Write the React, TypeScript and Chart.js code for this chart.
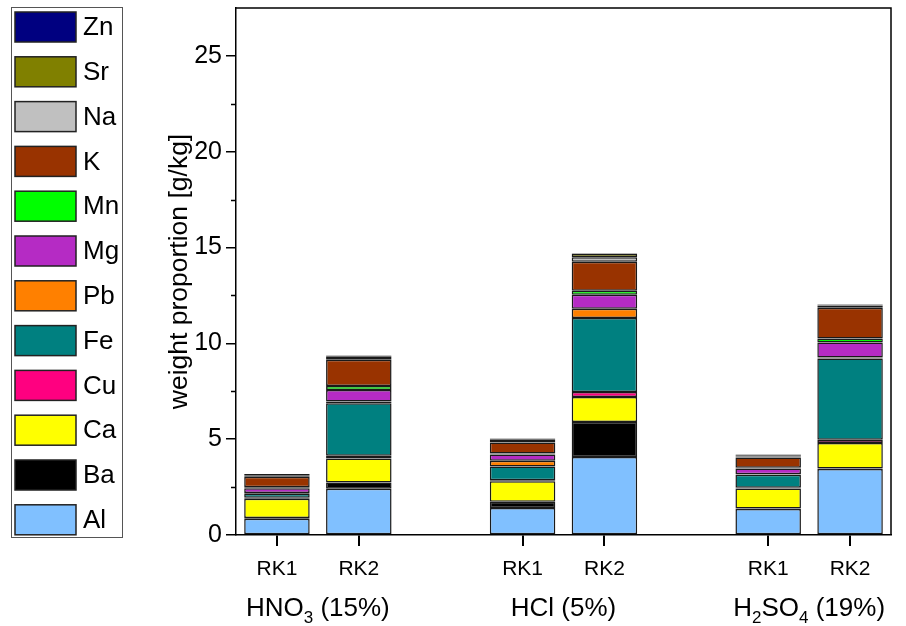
import React, { useEffect, useRef } from 'react';
import { Chart, registerables } from 'chart.js';

Chart.register(...registerables);

// Category slots along the x axis (empty slots separate the acid groups)
const categories = ['RK1', 'RK2', '', 'RK1', 'RK2', '', 'RK1', 'RK2'];
const sampleSlots = [0, 1, 3, 4, 6, 7];
// "_d" marks a subscript digit
const groupLabels = ['HNO_3 (15%)', 'HCl (5%)', 'H_2SO_4 (19%)'];

const elements = ['Al', 'Ba', 'Ca', 'Cu', 'Fe', 'Pb', 'Mg', 'Mn', 'K', 'Na', 'Sr', 'Zn'];
const colors = [
  '#80C0FF', '#000000', '#FFFF00', '#FF0080', '#008080', '#FF8000',
  '#B52BC4', '#00FF00', '#993300', '#C0C0C0', '#808000', '#000080',
];

// weight proportion [g/kg] per sample: HNO3 RK1, RK2, HCl RK1, RK2, H2SO4 RK1, RK2
const Al = [0.85, 2.41, 1.41, 4.07, 1.36, 3.45];
const Ba = [0.04, 0.33, 0.32, 1.83, 0.02, 0.02];
const Ca = [1.0, 1.25, 1.08, 1.3, 1.05, 1.33];
const Cu = [0.05, 0.14, 0.05, 0.26, 0.03, 0.17];
const Fe = [0.21, 2.74, 0.71, 3.86, 0.68, 4.24];
const Pb = [0.04, 0.1, 0.3, 0.49, 0.03, 0.05];
const Mg = [0.25, 0.6, 0.33, 0.73, 0.3, 0.79];
const Mn = [0.05, 0.21, 0.05, 0.21, 0.04, 0.21];
const K = [0.55, 1.37, 0.58, 1.51, 0.54, 1.6];
const Na = [0.05, 0.15, 0.08, 0.23, 0.05, 0.12];
const Sr = [0.04, 0.04, 0.06, 0.19, 0.04, 0.03];
const Zn = [0.05, 0.03, 0.07, 0.02, 0.06, 0.03];

const series = [Al, Ba, Ca, Cu, Fe, Pb, Mg, Mn, K, Na, Sr, Zn];

const FONT = "'Liberation Sans', Arial, Helvetica, sans-serif";

function toSlots(vals: number[]): (number | null)[] {
  const out: (number | null)[] = categories.map(() => null);
  sampleSlots.forEach((slot, i) => {
    out[slot] = vals[i];
  });
  return out;
}

function drawRich(ctx: CanvasRenderingContext2D, text: string, cx: number, baseY: number, size: number) {
  const subSize = Math.round(size * 0.65);
  const runs: { t: string; sub: boolean }[] = [];
  for (let i = 0; i < text.length; i++) {
    if (text[i] === '_' && i + 1 < text.length) {
      runs.push({ t: text[i + 1], sub: true });
      i++;
    } else {
      const last = runs[runs.length - 1];
      if (last && !last.sub) last.t += text[i];
      else runs.push({ t: text[i], sub: false });
    }
  }
  let total = 0;
  const widths = runs.map((r) => {
    ctx.font = `${r.sub ? subSize : size}px ${FONT}`;
    const w = ctx.measureText(r.t).width;
    total += w;
    return w;
  });
  let x = cx - total / 2;
  ctx.textAlign = 'left';
  ctx.textBaseline = 'alphabetic';
  runs.forEach((r, i) => {
    ctx.font = `${r.sub ? subSize : size}px ${FONT}`;
    ctx.fillText(r.t, x, r.sub ? baseY + size * 0.25 : baseY);
    x += widths[i];
  });
}

const decorPlugin = {
  id: 'decor',
  afterDraw(chart: any) {
    const { ctx, chartArea: a, scales } = chart;
    const x = scales.x;
    const y = scales.y;
    ctx.save();

    // frame: top and right edges of the plot
    ctx.strokeStyle = '#000';
    ctx.lineWidth = 1.5;
    ctx.beginPath();
    ctx.moveTo(a.left, a.top);
    ctx.lineTo(a.right, a.top);
    ctx.lineTo(a.right, a.bottom);
    ctx.stroke();

    // minor ticks on the y axis
    ctx.beginPath();
    for (let v = 2.5; v < y.max; v += 5) {
      const py = Math.round(y.getPixelForValue(v)) + 0.5;
      ctx.moveTo(a.left - 5, py);
      ctx.lineTo(a.left, py);
    }
    ctx.stroke();

    // tick marks under each sample bar
    ctx.lineWidth = 2;
    ctx.beginPath();
    sampleSlots.forEach((slot) => {
      const px = Math.round(x.getPixelForValue(slot));
      ctx.moveTo(px, a.bottom + 1);
      ctx.lineTo(px, a.bottom + 11);
    });
    ctx.stroke();

    // acid group labels under each pair of bars
    ctx.fillStyle = '#000';
    groupLabels.forEach((label, g) => {
      const c = (x.getPixelForValue(sampleSlots[g * 2]) + x.getPixelForValue(sampleSlots[g * 2 + 1])) / 2;
      drawRich(ctx, label, c, 616, 26);
    });

    // legend box, top entry = last dataset
    ctx.strokeStyle = '#555';
    ctx.lineWidth = 1;
    ctx.strokeRect(11.5, 7.5, 111, 530);
    const ds = chart.data.datasets;
    ctx.font = `26px ${FONT}`;
    ctx.textBaseline = 'middle';
    ctx.textAlign = 'left';
    for (let i = 0; i < ds.length; i++) {
      const d = ds[ds.length - 1 - i];
      const top = 12 + i * 44.8;
      ctx.fillStyle = d.backgroundColor;
      ctx.fillRect(15, top, 61, 30);
      ctx.strokeStyle = '#222';
      ctx.lineWidth = 1.5;
      ctx.strokeRect(15, top, 61, 30);
      ctx.fillStyle = '#000';
      ctx.fillText(d.label, 83, top + 16);
    }
    ctx.restore();
  },
};

export default function App() {
  const ref = useRef<HTMLCanvasElement>(null);

  useEffect(() => {
    document.body.style.margin = '0';
    const canvas = ref.current;
    if (!canvas) return;
    const chart = new Chart(canvas, {
      type: 'bar',
      data: {
        labels: categories,
        datasets: elements.map((el, i) => ({
          label: el,
          data: toSlots(series[i]),
          backgroundColor: colors[i],
          borderColor: '#1a1a1a',
          borderWidth: 1.5,
          borderSkipped: false,
          barPercentage: 0.8,
          categoryPercentage: 1,
        })),
      },
      options: {
        animation: false,
        responsive: false,
        layout: { padding: { left: 160, top: 8, right: 15, bottom: 0 } },
        plugins: {
          legend: { display: false },
          tooltip: { enabled: false },
        },
        scales: {
          x: {
            stacked: true,
            z: 1,
            grid: {
              offset: false,
              drawOnChartArea: false,
              drawTicks: true,
              tickLength: 10,
              lineWidth: 2,
              color: (c: any) => (c.tick && c.tick.label ? '#000' : 'rgba(0,0,0,0)'),
            },
            border: { display: true, color: '#000', width: 1.5 },
            ticks: {
              color: '#000',
              font: { family: FONT, size: 21 },
              padding: 12,
              maxRotation: 0,
              autoSkip: false,
            },
            afterFit: (s: any) => {
              s.height = 91;
              s.paddingLeft = 0;
              s.paddingRight = 0;
            },
          },
          y: {
            stacked: true,
            min: 0,
            max: 27.5,
            grid: {
              drawOnChartArea: false,
              drawTicks: true,
              tickLength: 10,
              lineWidth: 1.5,
              color: (c: any) => (c.tick && c.tick.value % 5 === 0 ? '#000' : 'rgba(0,0,0,0)'),
            },
            border: { display: true, color: '#000', width: 1.5 },
            ticks: {
              stepSize: 2.5,
              color: '#000',
              font: { family: FONT, size: 25 },
              padding: 4,
              callback: (v: any) => (Number(v) % 5 === 0 && Number(v) <= 25 ? String(v) : ''),
            },
            title: {
              display: true,
              text: 'weight proportion [g/kg]',
              color: '#000',
              font: { family: FONT, size: 26.5 },
              padding: { top: 4, bottom: 4 },
            },
            afterFit: (s: any) => {
              s.width = 76;
              s.paddingTop = 0;
              s.paddingBottom = 0;
            },
          },
        },
      },
      plugins: [decorPlugin],
    });
    return () => chart.destroy();
  }, []);

  return (
    <div style={{ width: 906, height: 626, background: '#fff' }}>
      <canvas ref={ref} width={906} height={626} style={{ display: 'block' }} />
    </div>
  );
}
